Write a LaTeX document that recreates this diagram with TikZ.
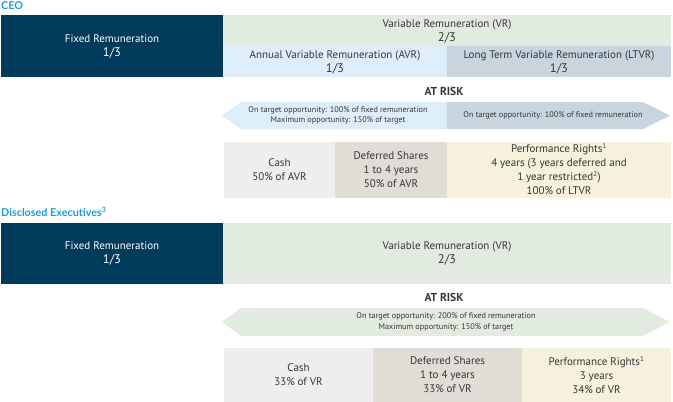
\documentclass[tikz,border=0pt]{standalone}
\usepackage{fontspec}
\setmainfont{PT Sans}
\newfontfamily\headfont{Lato}
\definecolor{navy}{HTML}{003B5C}
\definecolor{vrgreen}{HTML}{E2EBDF}
\definecolor{avrblue}{HTML}{DDEEF8}
\definecolor{ltvrblue}{HTML}{C8D5DF}
\definecolor{cashgray}{HTML}{EEEEEF}
\definecolor{defbrown}{HTML}{E2DCD6}
\definecolor{perfyellow}{HTML}{F5F1DC}
\definecolor{headblue}{HTML}{1A9EDB}
\definecolor{txt}{HTML}{363636}
\newcommand{\fracline}[1]{{\fontsize{12.5}{14}\selectfont #1}}
\tikzset{
  cell/.style={rectangle, inner sep=0pt, align=center, text=txt,
    font=\fontsize{11}{14}\selectfont},
  smalltxt/.style={inner sep=0pt, align=center, text=txt,
    font=\fontsize{8.2}{10.5}\selectfont},
  risk/.style={inner sep=0pt, text=txt, font=\fontsize{11.5}{13}\selectfont\bfseries},
  head/.style={inner sep=0pt, anchor=west, text=headblue,
    font=\headfont\fontsize{10.8}{12}\selectfont\bfseries},
}
\begin{document}
\begin{tikzpicture}[x=1pt,y=-1pt]
\useasboundingbox (0,0) rectangle (673,402);

% ---------- CEO ----------
\node[head] (ceo) at (1,5.5) {CEO};

\fill[navy] (1,15) rectangle (223,77);
\node[cell, text=white] (fix1) at (112,46.5) {Fixed Remuneration\\\fracline{1/3}};

\fill[vrgreen] (223,15) rectangle (671,46);
\node[cell] (vr1) at (447,31) {Variable Remuneration (VR)\\\fracline{2/3}};

\fill[avrblue] (223,46) rectangle (447,77);
\node[cell] (avr) at (335,62) {Annual Variable Remuneration (AVR)\\\fracline{1/3}};

\fill[ltvrblue] (447,46) rectangle (671,77);
\node[cell] (ltvr) at (559,62) {Long Term Variable Remuneration (LTVR)\\\fracline{1/3}};

\node[risk] (risk1) at (444,91) {AT RISK};

\fill[avrblue] (241,102) -- (447,102) -- (447,129) -- (241,129) -- (222,115.5) -- cycle;
\fill[ltvrblue] (447,102) -- (643,102) -- (670,115.5) -- (643,129) -- (447,129) -- cycle;
\node[smalltxt] (arrL) at (338,115.5) {On target opportunity: 100\% of fixed remuneration\\Maximum opportunity: 150\% of target};
\node[smalltxt] (arrR) at (553,115.5) {On target opportunity: 100\% of fixed remuneration};

\fill[cashgray] (224,142) rectangle (335,198);
\node[cell] (cash1) at (279.5,169.5) {Cash\\50\% of AVR};
\fill[defbrown] (335,142) rectangle (447,198);
\node[cell] (def1) at (391,169.5) {Deferred Shares\\1 to 4 years\\50\% of AVR};
\fill[perfyellow] (447,142) rectangle (671,198);
\node[cell] (perf1) at (559,169.5) {Performance Rights\textsuperscript{\scriptsize 1}\\4 years (3 years deferred and\\1 year restricted\textsuperscript{\scriptsize 2})\\100\% of LTVR};

% ---------- Disclosed Executives ----------
\node[head] (exec) at (1,212) {Disclosed Executives\textsuperscript{\scriptsize 3}};

\fill[navy] (1,223) rectangle (223,284);
\node[cell, text=white] (fix2) at (112,253.5) {Fixed Remuneration\\\fracline{1/3}};

\fill[vrgreen] (223,223) rectangle (671,284);
\node[cell] (vr2) at (447,253.5) {Variable Remuneration (VR)\\\fracline{2/3}};

\node[risk] (risk2) at (444,297) {AT RISK};

\fill[vrgreen] (241,308) -- (643,308) -- (670,322) -- (643,336) -- (241,336) -- (222,322) -- cycle;
\node[smalltxt] (arr2) at (446,322) {On target opportunity: 200\% of fixed remuneration\\Maximum opportunity: 150\% of target};

\fill[cashgray] (224,348) rectangle (373,402);
\node[cell] (cash2) at (298.5,375) {Cash\\33\% of VR};
\fill[defbrown] (373,348) rectangle (522,402);
\node[cell] (def2) at (447.5,375) {Deferred Shares\\1 to 4 years\\33\% of VR};
\fill[perfyellow] (522,348) rectangle (671,402);
\node[cell] (perf2) at (596.5,375) {Performance Rights\textsuperscript{\scriptsize 1}\\3 years\\34\% of VR};
\end{tikzpicture}
\end{document}
